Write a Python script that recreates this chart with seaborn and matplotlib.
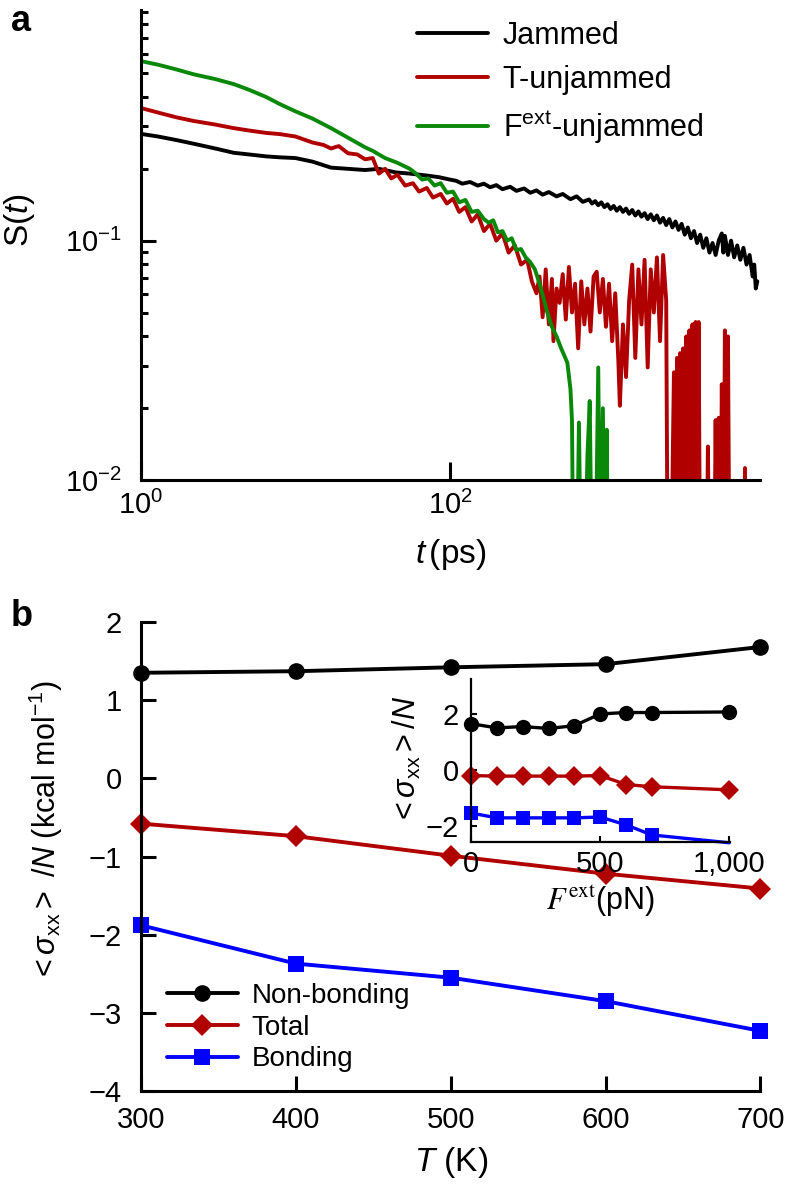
import numpy as np
import pandas as pd
import matplotlib
matplotlib.use("Agg")
import matplotlib.pyplot as plt
import seaborn as sns
from matplotlib.ticker import NullLocator, NullFormatter, FixedLocator, LogLocator

# ------------------------------
# Panel a: S(t) (log10 t, log10 S)
# ------------------------------
jam_logt = [0, 0.11, 0.23, 0.34, 0.48, 0.6, 0.7, 0.81, 0.9, 1.0, 1.11, 1.23, 1.34, 1.45, 1.54,
            1.65, 1.74, 1.85, 1.93, 2.0, 2.04, 2.08, 2.13, 2.18, 2.22, 2.26, 2.30, 2.34, 2.39,
            2.43, 2.48, 2.52, 2.56, 2.60, 2.64, 2.69, 2.73, 2.78, 2.82, 2.86, 2.90, 2.92, 2.94,
            2.96, 2.98, 3.00, 3.02, 3.04, 3.06, 3.08, 3.10, 3.12, 3.14, 3.16, 3.18, 3.20, 3.22,
            3.24, 3.26, 3.28, 3.30, 3.32, 3.34, 3.36, 3.38, 3.40, 3.42, 3.44, 3.46, 3.48, 3.50,
            3.52, 3.54, 3.56, 3.58, 3.60, 3.62, 3.64, 3.66, 3.68, 3.70, 3.72, 3.74, 3.76, 3.77,
            3.78, 3.80, 3.82, 3.84, 3.86, 3.88, 3.90, 3.92, 3.94, 3.96, 3.97, 3.98, 3.99]
jam_logs = [-0.554, -0.565, -0.58, -0.595, -0.615, -0.633, -0.64, -0.648, -0.652, -0.655, -0.67,
            -0.695, -0.70, -0.705, -0.70, -0.715, -0.72, -0.728, -0.735, -0.745, -0.75, -0.762,
            -0.755, -0.77, -0.762, -0.777, -0.768, -0.785, -0.775, -0.792, -0.782, -0.80, -0.79,
            -0.808, -0.797, -0.815, -0.805, -0.827, -0.815, -0.838, -0.828, -0.845, -0.835,
            -0.852, -0.84, -0.86, -0.848, -0.868, -0.855, -0.875, -0.86, -0.88, -0.866, -0.888,
            -0.872, -0.895, -0.878, -0.90, -0.885, -0.91, -0.89, -0.915, -0.895, -0.925, -0.905,
            -0.935, -0.91, -0.945, -0.92, -0.955, -0.93, -0.975, -0.945, -0.99, -0.96, -1.01,
            -0.975, -1.03, -0.99, -1.05, -1.01, -1.06, -1.0, -0.97, -1.05, -0.98, -1.06, -1.0,
            -1.07, -1.02, -1.08, -1.03, -1.1, -1.06, -1.15, -1.10, -1.2, -1.17]

tun_logt = [0, 0.11, 0.23, 0.34, 0.48, 0.6, 0.7, 0.81, 0.9, 1.0, 1.11, 1.18, 1.23, 1.28, 1.34,
            1.40, 1.45, 1.5, 1.54, 1.58, 1.62, 1.66, 1.71, 1.76, 1.80, 1.85, 1.89, 1.94, 1.98,
            2.02, 2.06, 2.10, 2.14, 2.18, 2.22, 2.26, 2.30, 2.34, 2.38, 2.42, 2.46, 2.50, 2.53,
            2.56, 2.58, 2.60, 2.62, 2.64, 2.66, 2.67, 2.69, 2.71, 2.73, 2.75, 2.77, 2.79, 2.81,
            2.83, 2.85, 2.87, 2.89, 2.91, 2.93, 2.95, 2.97, 2.99, 3.01, 3.03, 3.05, 3.07, 3.09,
            3.10, 3.12, 3.14, 3.16, 3.18, 3.20, 3.22, 3.24, 3.26, 3.28, 3.30, 3.32, 3.34, 3.36,
            3.38, 3.40, 3.41, 3.43, 3.45, 3.46, 3.47, 3.48, 3.49, 3.50, 3.51, 3.52, 3.53, 3.54,
            3.55, 3.56, 3.57, 3.58, 3.59, 3.60, 3.61, 3.62, 3.66, 3.67, 3.68, 3.71, 3.72, 3.73,
            3.74, 3.75, 3.76, 3.77, 3.78, 3.79, 3.80, 3.81, 3.90, 3.91, 3.92]
tun_logs = [-0.446, -0.465, -0.485, -0.50, -0.515, -0.53, -0.54, -0.55, -0.555, -0.565, -0.59,
            -0.60, -0.615, -0.605, -0.635, -0.64, -0.66, -0.655, -0.72, -0.70, -0.74, -0.725,
            -0.77, -0.76, -0.795, -0.78, -0.82, -0.805, -0.845, -0.825, -0.88, -0.86, -0.92,
            -0.89, -0.96, -0.93, -1.0, -0.97, -1.05, -1.02, -1.10, -1.08, -1.17, -1.22, -1.15,
            -1.32, -1.12, -1.35, -1.16, -1.42, -1.2, -1.26, -1.14, -1.33, -1.11, -1.30, -1.18,
            -1.45, -1.17, -1.35, -1.20, -1.38, -1.15, -1.13, -1.30, -1.16, -1.36, -1.18, -1.42,
            -1.22, -1.50, -1.69, -1.35, -1.57, -1.25, -1.10, -1.49, -1.12, -1.35, -1.08, -1.53,
            -1.12, -1.30, -1.07, -1.42, -1.06, -1.25, -2.5, -2.5, -1.55, -2.5, -1.49, -2.5,
            -1.47, -2.5, -1.45, -2.5, -1.40, -2.5, -1.375, -2.5, -1.35, -2.5, -1.34, -2.5,
            -1.34, -2.5, -2.5, -1.86, -2.5, -2.5, -1.75, -2.5, -1.74, -2.5, -1.6, -2.5, -1.375,
            -2.5, -1.4, -2.5, -2.5, -1.95, -2.5]

fun_logt = [0, 0.11, 0.23, 0.34, 0.48, 0.6, 0.7, 0.81, 0.9, 1.0, 1.11, 1.23, 1.34, 1.45, 1.5,
            1.58, 1.66, 1.74, 1.78, 1.82, 1.86, 1.90, 1.94, 1.98, 2.02, 2.06, 2.10, 2.14, 2.18,
            2.22, 2.25, 2.28, 2.31, 2.34, 2.37, 2.40, 2.43, 2.46, 2.49, 2.52, 2.55, 2.58, 2.61,
            2.63, 2.66, 2.69, 2.72, 2.74, 2.76, 2.78, 2.79, 2.80, 2.82, 2.835, 2.85, 2.87, 2.89,
            2.905, 2.92, 2.94, 2.96, 2.975, 2.99, 3.005, 3.015, 3.025]
fun_logs = [-0.25, -0.265, -0.285, -0.305, -0.325, -0.346, -0.37, -0.40, -0.43, -0.46, -0.49,
            -0.53, -0.57, -0.61, -0.625, -0.655, -0.675, -0.70, -0.72, -0.745, -0.74, -0.77,
            -0.76, -0.80, -0.795, -0.84, -0.83, -0.88, -0.875, -0.91, -0.925, -0.915, -0.965,
            -0.96, -1.0, -0.99, -1.04, -1.035, -1.07, -1.09, -1.12, -1.18, -1.25, -1.30, -1.36,
            -1.40, -1.45, -1.48, -1.51, -1.62, -1.75, -2.5, -2.5, -1.76, -2.5, -2.5, -1.9,
            -1.67, -2.5, -2.5, -1.53, -2.5, -1.70, -2.5, -1.79, -2.5]

# ------------------------------
# Panel b: stress vs temperature, inset vs external force
# ------------------------------
temps = [300, 400, 500, 600, 700]
nonbond_T = [1.35, 1.37, 1.42, 1.46, 1.68]
total_T = [-0.58, -0.74, -0.99, -1.22, -1.41]
bond_T = [-1.88, -2.37, -2.55, -2.85, -3.23]

forces = [0, 100, 200, 300, 400, 500, 600, 700, 1000]
nonbond_F = [1.65, 1.5, 1.55, 1.48, 1.58, 2.0, 2.05, 2.05, 2.07]
total_F = [-0.2, -0.22, -0.22, -0.22, -0.22, -0.2, -0.52, -0.6, -0.71]
bond_F = [-1.54, -1.71, -1.71, -1.71, -1.71, -1.68, -1.96, -2.32, -2.6]

BLACK = "#000000"
RED = "#b00000"
GREEN = "#0a880a"
BLUE = "#0000ff"

sns.set_style("ticks")
plt.rcParams.update({
    "font.family": ["Liberation Sans", "DejaVu Sans"],
    "mathtext.fontset": "custom",
    "mathtext.rm": "Liberation Sans",
    "mathtext.it": "Liberation Sans:italic",
    "mathtext.bf": "Liberation Sans:bold",
    "text.color": "black",
    "axes.labelcolor": "black",
    "axes.edgecolor": "black",
    "xtick.color": "black",
    "ytick.color": "black",
    "axes.linewidth": 2.2,
    "xtick.direction": "in",
    "ytick.direction": "in",
    "xtick.major.width": 2.2,
    "ytick.major.width": 2.2,
    "xtick.minor.width": 2.2,
    "ytick.minor.width": 2.2,
    "xtick.labelsize": 21,
    "ytick.labelsize": 21,
    "axes.labelsize": 24,
})

fig = plt.figure(figsize=(7.88, 11.84), dpi=100)
ax_a = fig.add_axes([0.179, 0.5946, 0.786, 0.397])
ax_b = fig.add_axes([0.179, 0.0785, 0.786, 0.3962])
ax_in = fig.add_axes([0.598, 0.2889, 0.329, 0.1377])

# ---------- panel a ----------
ax_a.set_xscale("log")
ax_a.set_yscale("log")
curves = [
    (jam_logt, jam_logs, BLACK, "Jammed"),
    (tun_logt, tun_logs, RED, "T-unjammed"),
    (fun_logt, fun_logs, GREEN, r"F$^{\rm ext}$-unjammed"),
]
for lt, ls, col, lab in curves:
    df = pd.DataFrame({"t": 10 ** np.array(lt), "S": 10 ** np.array(ls)})
    sns.lineplot(data=df, x="t", y="S", ax=ax_a, color=col, lw=2.8, label=lab,
                 estimator=None, sort=False)

ax_a.set_xlim(1, 10 ** 4.01)
ax_a.set_ylim(0.01, 0.92)
ax_a.xaxis.set_major_locator(FixedLocator([1, 100]))
ax_a.xaxis.set_minor_locator(NullLocator())
ax_a.set_xticklabels([r"$\mathdefault{10^{0}}$", r"$\mathdefault{10^{2}}$"])
ax_a.yaxis.set_major_locator(FixedLocator([0.01, 0.1]))
ax_a.yaxis.set_minor_locator(LogLocator(base=10, subs=np.arange(2, 10)))
ax_a.yaxis.set_minor_formatter(NullFormatter())
ax_a.tick_params(axis="x", which="major", length=13, pad=8)
ax_a.tick_params(axis="y", which="major", length=11, pad=14)
ax_a.tick_params(axis="y", which="minor", length=5)
ax_a.set_xlabel(r"$t\,$(ps)", labelpad=12)
ax_a.set_ylabel(r"S($t$)")
ax_a.yaxis.set_label_coords(-0.168, 0.553)
sns.despine(ax=ax_a)
ax_a.legend(loc="upper left", bbox_to_anchor=(0.446, 0.977), frameon=False, fontsize=22,
            handlelength=2.3, handletextpad=0.5, labelspacing=0.45, borderaxespad=0, borderpad=0)

# ---------- panel b ----------
main = [
    (nonbond_T, BLACK, "o", 12, "Non-bonding"),
    (total_T, RED, "D", 11, "Total"),
    (bond_T, BLUE, "s", 11, "Bonding"),
]
for vals, col, mk, ms, lab in main:
    sns.lineplot(x=temps, y=vals, ax=ax_b, color=col, marker=mk, markersize=ms,
                 markeredgewidth=0, lw=2.8, label=lab, clip_on=False, estimator=None)
ax_b.set_xlim(300, 700)
ax_b.set_ylim(-4, 2)
ax_b.set_xticks(temps)
ax_b.set_yticks([-4, -3, -2, -1, 0, 1, 2])
ax_b.tick_params(axis="x", length=11, pad=11)
ax_b.tick_params(axis="y", length=11, pad=14)
ax_b.set_xlabel(r"$T$ (K)", labelpad=8)
ax_b.set_ylabel(r"$<\sigma_{\rm xx}>$ /$N$ (kcal mol$^{-1}$)", fontsize=22)
ax_b.yaxis.set_label_coords(-0.123, 0.554)
sns.despine(ax=ax_b)
ax_b.legend(loc="lower left", bbox_to_anchor=(0.042, 0.04), frameon=False, fontsize=20,
            handlelength=2.55, handletextpad=0.5, labelspacing=0.2, borderaxespad=0, borderpad=0)

# ---------- inset ----------
inset = [
    (nonbond_F, BLACK, "o", 11, None),
    (total_F, RED, "D", 10, None),
    (bond_F, BLUE, "s", 10, list(range(8))),
]
for vals, col, mk, ms, every in inset:
    sns.lineplot(x=forces, y=vals, ax=ax_in, color=col, marker=mk, markersize=ms,
                 markeredgewidth=0, lw=2.4, clip_on=False, estimator=None, markevery=every)
ax_in.set_xlim(0, 1005)
ax_in.set_ylim(-2.57, 3.25)
ax_in.set_xticks([0, 500, 1000])
ax_in.set_xticklabels(["0", "500", "1,000"])
ax_in.set_yticks([-2, 0, 2])
ax_in.tick_params(length=4, width=1.5, labelsize=21)
ax_in.tick_params(axis="y", pad=9)
ax_in.tick_params(axis="x", pad=6)
for sp in ["left", "bottom"]:
    ax_in.spines[sp].set_linewidth(1.6)
sns.despine(ax=ax_in)
ax_in.set_xlabel(r"$F^{\rm ext}$(pN)", fontsize=22, labelpad=4, math_fontfamily="stix")
ax_in.set_ylabel(r"$<\sigma_{\rm xx}>/N$", fontsize=22, labelpad=2)

fig.text(0.014, 0.997, "a", fontsize=26, fontweight="bold", va="top")
fig.text(0.014, 0.494, "b", fontsize=26, fontweight="bold", va="top")

fig.savefig("out.png", dpi=100)
